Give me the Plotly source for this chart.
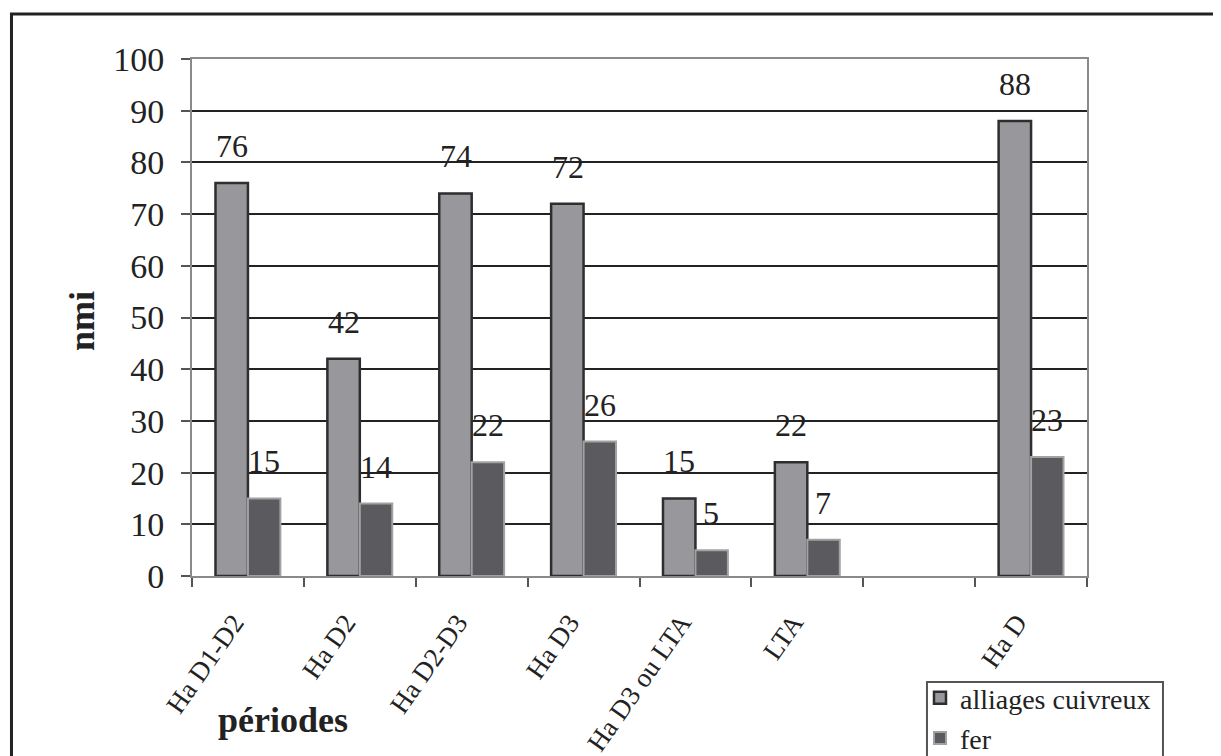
import plotly.graph_objects as go

categories = ["Ha D1-D2", "Ha D2", "Ha D2-D3", "Ha D3", "Ha D3 ou LTA", "LTA", " ", "Ha D"]
alliages = [76, 42, 74, 72, 15, 22, None, 88]
fer = [15, 14, 22, 26, 5, 7, None, 23]
y_ticks = [0, 10, 20, 30, 40, 50, 60, 70, 80, 90, 100]

FONT = "Liberation Serif"

fig = go.Figure()
fig.add_trace(go.Bar(
    x=categories, y=alliages, name="alliages cuivreux", legendgroup="a",
    marker=dict(color="#98989c", line=dict(color="#2e2e2e", width=2.5)),
))
fig.add_trace(go.Bar(
    x=categories, y=fer, name="fer", legendgroup="b",
    marker=dict(color="#5b5b5f", line=dict(color="#a2a2a2", width=2)),
))

annotations = []
for c, v in zip(categories, alliages):
    if v is not None:
        annotations.append(dict(x=c, y=v, text=str(v), showarrow=False, xref="x", yref="y",
                                yanchor="bottom", xshift=-16, yshift=17,
                                font=dict(family=FONT, size=32, color="#222")))
for c, v in zip(categories, fer):
    if v is not None:
        annotations.append(dict(x=c, y=v, text=str(v), showarrow=False, xref="x", yref="y",
                                yanchor="bottom", xshift=16, yshift=17,
                                font=dict(family=FONT, size=32, color="#222")))

annotations.append(dict(x=-0.1230, y=0.493, xref="paper", yref="paper", text="<b>nmi</b>",
                        textangle=-90, showarrow=False, xanchor="center", yanchor="middle",
                        font=dict(family=FONT, size=36, color="#222")))
annotations.append(dict(x=0.1017, y=-0.2785, xref="paper", yref="paper", text="<b>périodes</b>",
                        showarrow=False, xanchor="center", yanchor="middle",
                        font=dict(family=FONT, size=36, color="#222")))

fig.update_layout(
    width=1213, height=748,
    margin=dict(l=184, r=134, t=51, b=180, autoexpand=False),
    paper_bgcolor="white", plot_bgcolor="white",
    barmode="group", bargap=0.42, bargroupgap=0,
    font=dict(family=FONT, color="#222"),
    annotations=annotations,
    showlegend=True,
    legend=dict(x=0.8134, y=-0.1876, xanchor="left", yanchor="top",
                borderwidth=0, bgcolor="rgba(0,0,0,0)", tracegroupgap=1,
                font=dict(family=FONT, size=28, color="#222")),
    shapes=[
        dict(type="rect", xref="paper", yref="paper",
             x0=-0.2017, x1=1.3, y0=-0.5, y1=1.087,
             line=dict(color="#222", width=3), layer="below"),
        dict(type="rect", xref="paper", yref="paper",
             x0=0.8212, x1=1.0849, y0=-0.5, y1=-0.205,
             line=dict(color="#555", width=2), fillcolor="white", layer="below"),
    ],
)
fig.update_xaxes(
    type="category", categoryorder="array", categoryarray=categories,
    showline=True, linecolor="#8a8a8a", linewidth=2, mirror=True,
    ticks="outside", tickson="boundaries", ticklen=9, tickcolor="#555", tickwidth=1.5,
    tickangle=-55, tickfont=dict(family=FONT, size=27, color="#222"),
    ticklabelstandoff=18, ticklabelshift=-14,
    showgrid=False, automargin=False,
)
fig.update_yaxes(
    range=[0, 100], tickvals=y_ticks,
    showline=True, linecolor="#8a8a8a", linewidth=2, mirror=True,
    ticks="outside", ticklen=9, tickcolor="#555", tickwidth=1.5,
    tickfont=dict(family=FONT, size=34, color="#222"), ticklabelstandoff=10,
    showgrid=True, gridcolor="#222", gridwidth=2, zeroline=False, automargin=False,
)

fig.write_html("out.html")
